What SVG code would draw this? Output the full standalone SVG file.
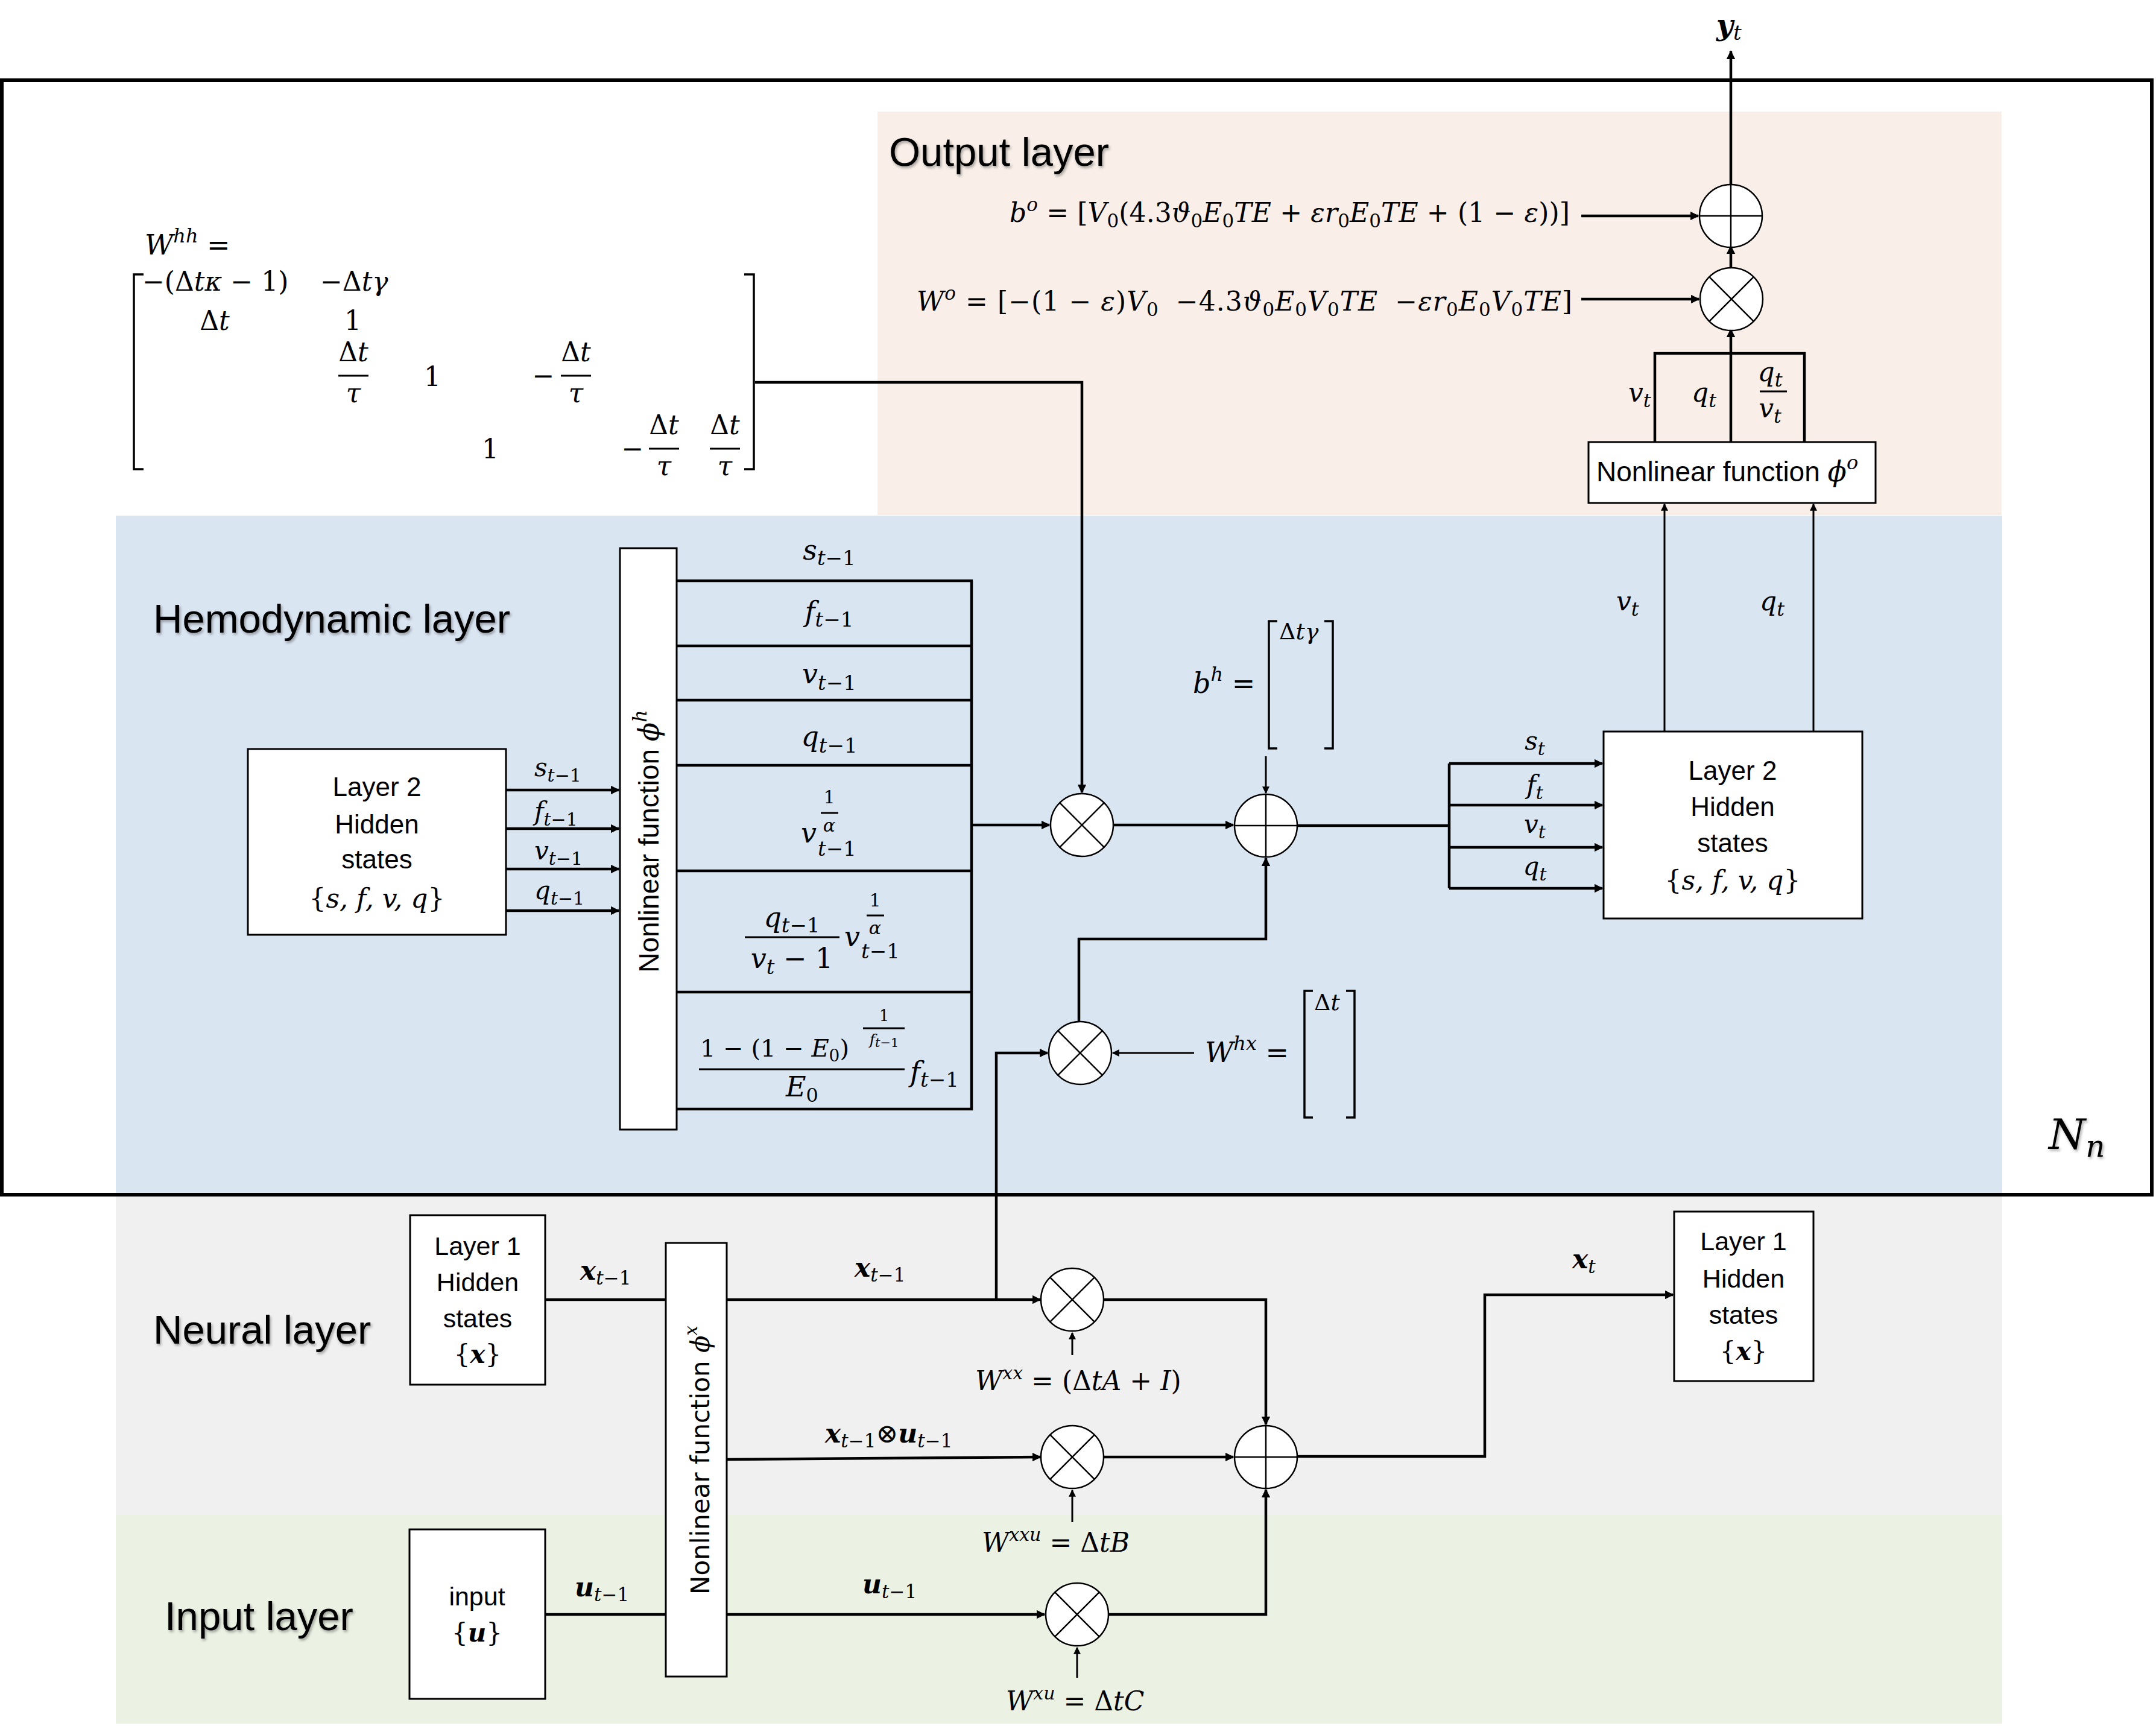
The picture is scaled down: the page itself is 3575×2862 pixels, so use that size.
<svg xmlns="http://www.w3.org/2000/svg" width="3575" height="2862" viewBox="0 0 3575 2862">
<defs>
<style>
.sans{font-family:"Liberation Sans",Arial,sans-serif;fill:#000}
.ttl{font-family:"Liberation Sans",Arial,sans-serif;font-size:67px;fill:#000;filter:url(#sh)}
.m{font-family:"DejaVu Serif","Liberation Serif",serif;font-style:italic;fill:#000}
.up{font-style:normal}
.bd{font-weight:bold}
.box{fill:#fff;stroke:#000;stroke-width:3}
.op{fill:#fff;stroke:#000;stroke-width:2.5}
.opl{stroke:#000;stroke-width:2.5;fill:none}
.ln{fill:none;stroke:#000;stroke-width:4.5}
.lt{fill:none;stroke:#000;stroke-width:3}
.br{fill:none;stroke:#000;stroke-width:3.5}
</style>
<filter id="sh" x="-5%" y="-30%" width="110%" height="160%"><feDropShadow dx="2" dy="3" stdDeviation="2" flood-color="#000" flood-opacity="0.35"/></filter>
<marker id="ah" viewBox="0 0 10 10" refX="9" refY="5" markerWidth="4" markerHeight="3.2" orient="auto" markerUnits="strokeWidth"><path d="M0,0L10,5L0,10z" fill="#000"/></marker>
<marker id="aht" viewBox="0 0 10 10" refX="9" refY="5" markerWidth="5" markerHeight="4" orient="auto" markerUnits="strokeWidth"><path d="M0,0L10,5L0,10z" fill="#000"/></marker>
<g id="otimes"><circle class="op" cx="0" cy="0" r="52"/><path class="opl" d="M-36.8,-36.8L36.8,36.8M36.8,-36.8L-36.8,36.8"/></g>
<g id="oplus"><circle class="op" cx="0" cy="0" r="52"/><path class="opl" d="M-52,0H52M0,-52V52"/></g>
</defs>

<g id="backgrounds">
<rect x="1455" y="185" width="1864" height="669" fill="#F9EFE8"/>
<rect x="192" y="855" width="3128" height="1124" fill="#DAE5F2"/>
<rect x="192" y="1981" width="3128" height="531" fill="#F0F0F0"/>
<rect x="192" y="2512" width="3128" height="346" fill="#EBF1E3"/>
</g>
<rect id="frame" x="3" y="133" width="3565" height="1848" fill="none" stroke="#000" stroke-width="6"/>

<g id="titles">
<text class="ttl" x="1474" y="275" font-size="66">Output layer</text>
<text class="ttl" x="254" y="1049">Hemodynamic layer</text>
<text class="ttl" x="254" y="2228">Neural layer</text>
<text class="ttl" x="273" y="2703">Input layer</text>
<text class="m" x="3397" y="1905" font-size="70" filter="url(#sh)">N<tspan font-size="50" dy="13">n</tspan></text>
</g>

<g id="connectors">
<path class="ln" d="M1252,634H1794V1314" marker-end="url(#ah)"/>
<path class="ln" d="M1611,1368H1740" marker-end="url(#ah)"/>
<path class="ln" d="M1846,1368H2045" marker-end="url(#ah)"/>
<path class="ln" d="M2151,1369H2403"/>
<path class="lt" d="M2099,1254V1315" marker-end="url(#aht)"/>
<path class="ln" d="M1789,1694V1557H2099V1423" marker-end="url(#ah)"/>
<path class="lt" d="M1980,1746H1845" marker-end="url(#aht)"/>
<path class="ln" d="M1652,2155V1746H1737" marker-end="url(#ah)"/>
<path class="ln" d="M2403,1266V1473"/>
<path class="ln" d="M2403,1266H2657" marker-end="url(#ah)"/>
<path class="ln" d="M2403,1335H2657" marker-end="url(#ah)"/>
<path class="ln" d="M2403,1405H2657" marker-end="url(#ah)"/>
<path class="ln" d="M2403,1473H2657" marker-end="url(#ah)"/>
<path class="ln" d="M839,1310H1026" marker-end="url(#ah)"/>
<path class="ln" d="M839,1374H1026" marker-end="url(#ah)"/>
<path class="ln" d="M839,1441H1026" marker-end="url(#ah)"/>
<path class="ln" d="M839,1510H1026" marker-end="url(#ah)"/>
<path class="lt" d="M2760,1213V836" marker-end="url(#aht)"/>
<path class="lt" d="M3007,1213V836" marker-end="url(#aht)"/>
<path class="ln" d="M2744,733V586H2992V733"/>
<path class="ln" d="M2870,733V546" marker-end="url(#ah)"/>
<path class="ln" d="M2870,444V408" marker-end="url(#ah)"/>
<path class="ln" d="M2870,306V85" marker-end="url(#ah)"/>
<path class="ln" d="M2622,358H2816" marker-end="url(#ah)"/>
<path class="ln" d="M2622,496H2817" marker-end="url(#ah)"/>
<path class="ln" d="M904,2155H1104"/>
<path class="ln" d="M1205,2155H1725" marker-end="url(#ah)"/>
<path class="ln" d="M1205,2420L1725,2416" marker-end="url(#ah)"/>
<path class="ln" d="M904,2677H1104"/>
<path class="ln" d="M1205,2677H1732" marker-end="url(#ah)"/>
<path class="lt" d="M1778,2247V2210" marker-end="url(#aht)"/>
<path class="lt" d="M1778,2524V2471" marker-end="url(#aht)"/>
<path class="lt" d="M1786,2782V2732" marker-end="url(#aht)"/>
<path class="ln" d="M1830,2155H2099V2362" marker-end="url(#ah)"/>
<path class="ln" d="M1830,2416H2045" marker-end="url(#ah)"/>
<path class="ln" d="M1838,2677H2099V2470" marker-end="url(#ah)"/>
<path class="ln" d="M2151,2415H2462V2147H2774" marker-end="url(#ah)"/>
</g>

<g id="Whh">
<text class="m" x="240" y="422" font-size="46">W<tspan font-size="32" dy="-20">hh</tspan><tspan class="up" dy="20"> =</tspan></text>
<path class="br" d="M238,455H222V778H238"/>
<path class="br" d="M1234,455H1250V778H1234"/>
<text class="m" x="236" y="482" font-size="44"><tspan class="up">−(Δ</tspan>tκ<tspan class="up"> − 1)</tspan></text>
<text class="m" x="531" y="482" font-size="44"><tspan class="up">−Δ</tspan>tγ</text>
<text class="m" x="356" y="547" font-size="44" text-anchor="middle"><tspan class="up">Δ</tspan>t</text>
<text class="m up" x="585" y="547" font-size="44" text-anchor="middle">1</text>
<text class="m" x="586" y="599" font-size="44" text-anchor="middle"><tspan class="up">Δ</tspan>t</text>
<line class="lt" x1="561" y1="623" x2="611" y2="623"/>
<text class="m" x="586" y="667" font-size="44" text-anchor="middle">τ</text>
<text class="m up" x="717" y="640" font-size="44" text-anchor="middle">1</text>
<text class="m up" x="901" y="638" font-size="44" text-anchor="middle">−</text>
<text class="m" x="955" y="599" font-size="44" text-anchor="middle"><tspan class="up">Δ</tspan>t</text>
<line class="lt" x1="930" y1="623" x2="980" y2="623"/>
<text class="m" x="955" y="667" font-size="44" text-anchor="middle">τ</text>
<text class="m up" x="813" y="760" font-size="44" text-anchor="middle">1</text>
<text class="m up" x="1049" y="759" font-size="44" text-anchor="middle">−</text>
<text class="m" x="1101" y="720" font-size="44" text-anchor="middle"><tspan class="up">Δ</tspan>t</text>
<line class="lt" x1="1076" y1="744" x2="1126" y2="744"/>
<text class="m" x="1101" y="788" font-size="44" text-anchor="middle">τ</text>
<text class="m" x="1202" y="720" font-size="44" text-anchor="middle"><tspan class="up">Δ</tspan>t</text>
<line class="lt" x1="1177" y1="744" x2="1227" y2="744"/>
<text class="m" x="1202" y="788" font-size="44" text-anchor="middle">τ</text>
</g>

<g id="bo">
<text class="m" x="1674" y="368" font-size="44" textLength="929" lengthAdjust="spacing">b<tspan font-size="31" dy="-18">o</tspan><tspan class="up" dy="18"> = [</tspan>V<tspan class="up" font-size="31" dy="9">0</tspan><tspan class="up" dy="-9">(4.3</tspan>ϑ<tspan class="up" font-size="31" dy="9">0</tspan><tspan dy="-9">E</tspan><tspan class="up" font-size="31" dy="9">0</tspan><tspan dy="-9">TE</tspan><tspan class="up"> + </tspan>εr<tspan class="up" font-size="31" dy="9">0</tspan><tspan dy="-9">E</tspan><tspan class="up" font-size="31" dy="9">0</tspan><tspan dy="-9">TE</tspan><tspan class="up"> + (1 − </tspan>ε<tspan class="up">))]</tspan></text>
</g>
<g id="Wo">
<text class="m" x="1520" y="515" font-size="44" textLength="1087" lengthAdjust="spacing">W<tspan font-size="31" dy="-18">o</tspan><tspan class="up" dy="18"> = [−(1 − </tspan>ε<tspan class="up">)</tspan>V<tspan class="up" font-size="31" dy="9">0</tspan><tspan class="up" dx="28" dy="-9">−4.3</tspan>ϑ<tspan class="up" font-size="31" dy="9">0</tspan><tspan dy="-9">E</tspan><tspan class="up" font-size="31" dy="9">0</tspan><tspan dy="-9">V</tspan><tspan class="up" font-size="31" dy="9">0</tspan><tspan dy="-9">TE</tspan><tspan class="up" dx="28">−</tspan>εr<tspan class="up" font-size="31" dy="9">0</tspan><tspan dy="-9">E</tspan><tspan class="up" font-size="31" dy="9">0</tspan><tspan dy="-9">V</tspan><tspan class="up" font-size="31" dy="9">0</tspan><tspan dy="-9">TE</tspan><tspan class="up">]</tspan></text>
</g>

<g id="out_plus" transform="translate(2870,358)"><use href="#oplus"/></g>
<g id="out_mul" transform="translate(2871,496)"><use href="#otimes"/></g>
<g id="yt"><text class="m bd" x="2846" y="58" font-size="48">y<tspan font-weight="normal" font-size="34" dy="8">t</tspan></text></g>
<g id="out_labels">
<text class="m" x="2700" y="666" font-size="44">v<tspan font-size="32" dy="9">t</tspan></text>
<text class="m" x="2805" y="666" font-size="44">q<tspan font-size="32" dy="9">t</tspan></text>
<text class="m" x="2935" y="632" font-size="44" text-anchor="middle">q<tspan font-size="32" dy="9">t</tspan></text>
<line class="lt" x1="2918" y1="649" x2="2963" y2="649"/>
<text class="m" x="2935" y="692" font-size="44" text-anchor="middle">v<tspan font-size="32" dy="9">t</tspan></text>
</g>
<g id="phi_o">
<rect class="box" x="2634" y="733" width="476" height="101"/>
<text class="sans" x="2647" y="798" font-size="46">Nonlinear function <tspan class="m" font-size="46">ϕ</tspan><tspan class="m" font-size="32" dy="-20">o</tspan></text>
</g>
<g id="hemo_out_labels">
<text class="m" x="2680" y="1012" font-size="44">v<tspan font-size="32" dy="9">t</tspan></text>
<text class="m" x="2918" y="1012" font-size="44">q<tspan font-size="32" dy="9">t</tspan></text>
</g>

<g id="layer2_left">
<rect class="box" x="411" y="1242" width="428" height="308"/>
<text class="sans" x="625" y="1320" font-size="44" text-anchor="middle">Layer 2</text>
<text class="sans" x="625" y="1382" font-size="44" text-anchor="middle">Hidden</text>
<text class="sans" x="625" y="1440" font-size="44" text-anchor="middle">states</text>
<text class="m" x="625" y="1505" font-size="44" text-anchor="middle"><tspan class="up">{</tspan>s, f, v, q<tspan class="up">}</tspan></text>
</g>
<g id="layer2_left_labels">
<text class="m" x="886" y="1287" font-size="42">s<tspan font-size="30" dy="9">t<tspan class="up">−1</tspan></tspan></text>
<text class="m" x="886" y="1360" font-size="42">f<tspan font-size="30" dy="9">t<tspan class="up">−1</tspan></tspan></text>
<text class="m" x="886" y="1425" font-size="42">v<tspan font-size="30" dy="9">t<tspan class="up">−1</tspan></tspan></text>
<text class="m" x="886" y="1491" font-size="42">q<tspan font-size="30" dy="9">t<tspan class="up">−1</tspan></tspan></text>
</g>

<g id="phi_h">
<rect class="box" x="1028" y="909" width="94" height="964"/>
<text class="sans" transform="translate(1092,1395) rotate(-90)" font-size="46" text-anchor="middle">Nonlinear function <tspan class="m">ϕ</tspan><tspan class="m" font-size="32" dy="-20">h</tspan></text>
</g>
<g id="hemo_table">
<path class="ln" d="M1122,963H1611V1839H1122M1122,1071H1611M1122,1161H1611M1122,1269H1611M1122,1444H1611M1122,1645H1611"/>
<text class="m" x="1375" y="928" font-size="46" text-anchor="middle">s<tspan font-size="34" dy="9">t<tspan class="up">−1</tspan></tspan></text>
<text class="m" x="1375" y="1030" font-size="46" text-anchor="middle">f<tspan font-size="34" dy="9">t<tspan class="up">−1</tspan></tspan></text>
<text class="m" x="1375" y="1133" font-size="46" text-anchor="middle">v<tspan font-size="34" dy="11">t<tspan class="up">−1</tspan></tspan></text>
<text class="m" x="1375" y="1237" font-size="46" text-anchor="middle">q<tspan font-size="34" dy="11">t<tspan class="up">−1</tspan></tspan></text>
<text class="m" x="1328" y="1397" font-size="46">v</text>
<text class="m up" x="1375" y="1332" font-size="30" text-anchor="middle">1</text>
<line class="lt" x1="1361" y1="1348" x2="1390" y2="1348" stroke-width="2.5"/>
<text class="m" x="1375" y="1379" font-size="30" text-anchor="middle">α</text>
<text class="m" x="1356" y="1419" font-size="34">t<tspan class="up">−1</tspan></text>
<text class="m" x="1313" y="1537" font-size="46" text-anchor="middle">q<tspan font-size="34" dy="9">t<tspan class="up">−1</tspan></tspan></text>
<line class="lt" x1="1235" y1="1554" x2="1392" y2="1554"/>
<text class="m" x="1313" y="1605" font-size="46" text-anchor="middle">v<tspan font-size="34" dy="10">t</tspan><tspan class="up" dy="-10"> − 1</tspan></text>
<text class="m" x="1400" y="1569" font-size="46">v</text>
<text class="m up" x="1451" y="1503" font-size="30" text-anchor="middle">1</text>
<line class="lt" x1="1437" y1="1518" x2="1466" y2="1518" stroke-width="2.5"/>
<text class="m" x="1451" y="1549" font-size="30" text-anchor="middle">α</text>
<text class="m" x="1428" y="1589" font-size="34">t<tspan class="up">−1</tspan></text>
<text class="m up" x="1161" y="1752" font-size="40">1 − (1 − <tspan class="m">E</tspan><tspan font-size="28" dy="8">0</tspan><tspan dy="-8">)</tspan></text>
<text class="m up" x="1466" y="1693" font-size="26" text-anchor="middle">1</text>
<line class="lt" x1="1431" y1="1705" x2="1500" y2="1705" stroke-width="2.5"/>
<text class="m" x="1466" y="1732" font-size="25" text-anchor="middle">f<tspan font-size="21" dy="4">t<tspan class="up">−1</tspan></tspan></text>
<line class="lt" x1="1159" y1="1773" x2="1500" y2="1773"/>
<text class="m" x="1330" y="1818" font-size="46" text-anchor="middle">E<tspan class="up" font-size="32" dy="9">0</tspan></text>
<text class="m" x="1509" y="1793" font-size="46">f<tspan font-size="34" dy="9">t<tspan class="up">−1</tspan></tspan></text>
</g>

<g id="hemo_mul" transform="translate(1794,1368)"><use href="#otimes"/></g>
<g id="hemo_plus" transform="translate(2099,1369)"><use href="#oplus"/></g>
<g id="hx_mul" transform="translate(1791,1746)"><use href="#otimes"/></g>

<g id="bh">
<text class="m" x="1978" y="1149" font-size="46">b<tspan font-size="32" dy="-20">h</tspan><tspan class="up" dy="20"> =</tspan></text>
<path class="br" d="M2118,1030H2104V1241H2118"/>
<path class="br" d="M2196,1030H2210V1241H2196"/>
<text class="m" x="2121" y="1060" font-size="38"><tspan class="up">Δ</tspan>tγ</text>
</g>
<g id="Whx">
<text class="m" x="1998" y="1761" font-size="46">W<tspan font-size="32" dy="-20">hx</tspan><tspan class="up" dy="20"> =</tspan></text>
<path class="br" d="M2177,1643H2163V1853H2177"/>
<path class="br" d="M2232,1643H2246V1853H2232"/>
<text class="m" x="2179" y="1675" font-size="38"><tspan class="up">Δ</tspan>t</text>
</g>

<g id="layer2_right">
<rect class="box" x="2659" y="1213" width="429" height="310"/>
<text class="sans" x="2873" y="1293" font-size="44" text-anchor="middle">Layer 2</text>
<text class="sans" x="2873" y="1353" font-size="44" text-anchor="middle">Hidden</text>
<text class="sans" x="2873" y="1413" font-size="44" text-anchor="middle">states</text>
<text class="m" x="2873" y="1475" font-size="44" text-anchor="middle"><tspan class="up">{</tspan>s, f, v, q<tspan class="up">}</tspan></text>
</g>
<g id="layer2_right_labels">
<text class="m" x="2545" y="1243" font-size="42" text-anchor="middle">s<tspan font-size="30" dy="9">t</tspan></text>
<text class="m" x="2545" y="1316" font-size="42" text-anchor="middle">f<tspan font-size="30" dy="9">t</tspan></text>
<text class="m" x="2545" y="1381" font-size="42" text-anchor="middle">v<tspan font-size="30" dy="9">t</tspan></text>
<text class="m" x="2545" y="1451" font-size="42" text-anchor="middle">q<tspan font-size="30" dy="9">t</tspan></text>
</g>

<g id="layer1_left">
<rect class="box" x="680" y="2015" width="224" height="281"/>
<text class="sans" x="792" y="2081" font-size="43" text-anchor="middle">Layer 1</text>
<text class="sans" x="792" y="2141" font-size="43" text-anchor="middle">Hidden</text>
<text class="sans" x="792" y="2201" font-size="43" text-anchor="middle">states</text>
<text class="m" x="792" y="2260" font-size="42" text-anchor="middle"><tspan class="up">{</tspan><tspan class="bd">x</tspan><tspan class="up">}</tspan></text>
</g>
<g id="input">
<rect class="box" x="679" y="2536" width="225" height="281"/>
<text class="sans" x="791" y="2662" font-size="43" text-anchor="middle">input</text>
<text class="m" x="791" y="2722" font-size="42" text-anchor="middle"><tspan class="up">{</tspan><tspan class="bd">u</tspan><tspan class="up">}</tspan></text>
</g>
<g id="phi_x">
<rect class="box" x="1104" y="2061" width="101" height="719"/>
<text transform="translate(1176,2421) rotate(-90)" font-family="DejaVu Sans,Verdana,sans-serif" font-size="42" text-anchor="middle">Nonlinear function <tspan class="m">ϕ</tspan><tspan class="m" font-size="29" dy="-20">x</tspan></text>
</g>
<g id="x_mul" transform="translate(1778,2155)"><use href="#otimes"/></g>
<g id="xu_mul" transform="translate(1778,2416)"><use href="#otimes"/></g>
<g id="u_mul" transform="translate(1786,2677)"><use href="#otimes"/></g>
<g id="x_plus" transform="translate(2099,2416)"><use href="#oplus"/></g>
<g id="layer1_right">
<rect class="box" x="2776" y="2009" width="231" height="281"/>
<text class="sans" x="2891" y="2073" font-size="43" text-anchor="middle">Layer 1</text>
<text class="sans" x="2891" y="2135" font-size="43" text-anchor="middle">Hidden</text>
<text class="sans" x="2891" y="2195" font-size="43" text-anchor="middle">states</text>
<text class="m" x="2891" y="2255" font-size="42" text-anchor="middle"><tspan class="up">{</tspan><tspan class="bd">x</tspan><tspan class="up">}</tspan></text>
</g>
<g id="neural_labels">
<text class="m" x="962" y="2122" font-size="44"><tspan class="bd">x</tspan><tspan font-size="31" dy="8">t<tspan class="up">−1</tspan></tspan></text>
<text class="m" x="1417" y="2117" font-size="44"><tspan class="bd">x</tspan><tspan font-size="31" dy="8">t<tspan class="up">−1</tspan></tspan></text>
<text class="m" x="1368" y="2392" font-size="44"><tspan class="bd">x</tspan><tspan font-size="31" dy="8">t<tspan class="up">−1</tspan></tspan><tspan class="up" dy="-8">⊗</tspan><tspan class="bd">u</tspan><tspan font-size="31" dy="8">t<tspan class="up">−1</tspan></tspan></text>
<text class="m" x="953" y="2647" font-size="44"><tspan class="bd">u</tspan><tspan font-size="31" dy="8">t<tspan class="up">−1</tspan></tspan></text>
<text class="m" x="1430" y="2642" font-size="44"><tspan class="bd">u</tspan><tspan font-size="31" dy="8">t<tspan class="up">−1</tspan></tspan></text>
<text class="m" x="2607" y="2103" font-size="44"><tspan class="bd">x</tspan><tspan font-size="31" dy="8">t</tspan></text>
<text class="m" x="1617" y="2305" font-size="44">W<tspan font-size="30" dy="-18">xx</tspan><tspan class="up" dy="18"> = (Δ</tspan>tA<tspan class="up"> + </tspan>I<tspan class="up">)</tspan></text>
<text class="m" x="1628" y="2573" font-size="44">W<tspan font-size="30" dy="-18">xxu</tspan><tspan class="up" dy="18"> = Δ</tspan>tB</text>
<text class="m" x="1668" y="2836" font-size="44">W<tspan font-size="30" dy="-18">xu</tspan><tspan class="up" dy="18"> = Δ</tspan>tC</text>
</g>
</svg>
